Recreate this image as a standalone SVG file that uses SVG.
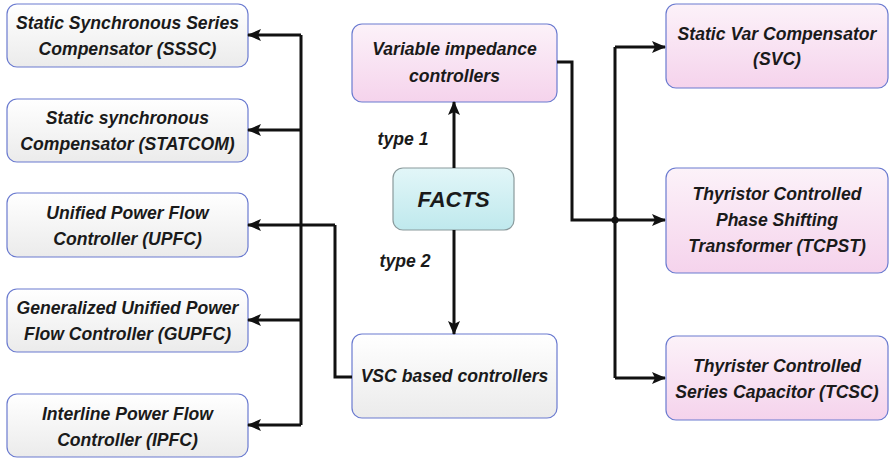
<svg xmlns="http://www.w3.org/2000/svg" width="889" height="459" viewBox="0 0 889 459">
<defs>
<linearGradient id="gGray" x1="0" y1="0" x2="0" y2="1"><stop offset="0" stop-color="#ffffff"/><stop offset="1" stop-color="#ebebeb"/></linearGradient>
<linearGradient id="gPink" x1="0" y1="0" x2="0" y2="1"><stop offset="0" stop-color="#fcf2f9"/><stop offset="1" stop-color="#f5d3ec"/></linearGradient>
<linearGradient id="gCyan" x1="0" y1="0" x2="0" y2="1"><stop offset="0" stop-color="#e2f6f8"/><stop offset="1" stop-color="#bfe9ed"/></linearGradient>
<marker id="arr" markerUnits="userSpaceOnUse" markerWidth="14" markerHeight="12" refX="13" refY="6" orient="auto"><path d="M0,0 L14,6 L0,12 L3,6 Z" fill="#111"/></marker>
</defs>
<style>
.b{stroke:#6b7bd0;stroke-width:1.2}
.g{fill:url(#gGray)}
.p{fill:url(#gPink)}
.c{fill:url(#gCyan);stroke:#8a9a9c;stroke-width:1.2}
.t{font-family:"Liberation Sans",Arial,sans-serif;font-weight:bold;font-style:italic;font-size:17.6px;fill:#1a1a1a;text-anchor:middle}
.l{fill:none;stroke:#111;stroke-width:3}
</style>
<g id="sssc"><rect class="b g" x="7" y="4" width="241" height="63" rx="10"/><text class="t" x="127.5" y="29">Static Synchronous Series</text><text class="t" x="127.5" y="55">Compensator (SSSC)</text></g>
<g id="statcom"><rect class="b g" x="7" y="99" width="241" height="63" rx="10"/><text class="t" x="127.5" y="124">Static synchronous</text><text class="t" x="127.5" y="150">Compensator (STATCOM)</text></g>
<g id="upfc"><rect class="b g" x="7" y="193" width="241" height="64" rx="10"/><text class="t" x="127.5" y="219">Unified Power Flow</text><text class="t" x="127.5" y="245">Controller (UPFC)</text></g>
<g id="gupfc"><rect class="b g" x="7" y="289" width="241" height="63" rx="10"/><text class="t" x="127.5" y="314">Generalized Unified Power</text><text class="t" x="127.5" y="340">Flow Controller (GUPFC)</text></g>
<g id="ipfc"><rect class="b g" x="7" y="394" width="241" height="63" rx="10"/><text class="t" x="127.5" y="420">Interline Power Flow</text><text class="t" x="127.5" y="446">Controller (IPFC)</text></g>
<g id="varimp"><rect class="b p" x="352" y="24" width="205" height="78" rx="10"/><text class="t" x="454.5" y="55">Variable impedance</text><text class="t" x="454.5" y="82">controllers</text></g>
<g id="facts"><rect class="c" x="393" y="168" width="121" height="62" rx="10"/><text class="t" x="453.5" y="207" style="font-size:22px">FACTS</text></g>
<g id="vsc"><rect class="b g" x="352" y="334" width="205" height="84" rx="10"/><text class="t" x="454.5" y="382">VSC based controllers</text></g>
<g id="svc"><rect class="b p" x="666" y="4" width="222" height="84" rx="10"/><text class="t" x="777" y="40">Static Var Compensator</text><text class="t" x="777" y="65">(SVC)</text></g>
<g id="tcpst"><rect class="b p" x="666" y="168" width="222" height="105" rx="10"/><text class="t" x="777" y="200">Thyristor Controlled</text><text class="t" x="777" y="226">Phase Shifting</text><text class="t" x="777" y="252">Transformer (TCPST)</text></g>
<g id="tcsc"><rect class="b p" x="666" y="336" width="222" height="84" rx="10"/><text class="t" x="777" y="372">Thyrister Controlled</text><text class="t" x="777" y="398">Series Capacitor (TCSC)</text></g>
<g id="labels"><text class="t" x="403" y="145">type 1</text><text class="t" x="405" y="267">type 2</text></g>
<g id="connectors">
<path class="l" d="M454,168 V102" marker-end="url(#arr)"/>
<path class="l" d="M454,230 V334" marker-end="url(#arr)"/>
<path class="l" d="M301,35 V425"/>
<path class="l" d="M301,35 H248" marker-end="url(#arr)"/>
<path class="l" d="M301,130 H248" marker-end="url(#arr)"/>
<path class="l" d="M335,225 H248" marker-end="url(#arr)"/>
<path class="l" d="M301,320 H248" marker-end="url(#arr)"/>
<path class="l" d="M301,425 H248" marker-end="url(#arr)"/>
<path class="l" d="M352,377 H335 V225"/>
<path class="l" d="M557,62 H572 V220 H665" marker-end="url(#arr)"/>
<path class="l" d="M615,47 V378"/>
<path class="l" d="M615,47 H665" marker-end="url(#arr)"/>
<path class="l" d="M615,378 H665" marker-end="url(#arr)"/>
<circle cx="615" cy="220" r="3.5" fill="#111"/>
</g>
</svg>
